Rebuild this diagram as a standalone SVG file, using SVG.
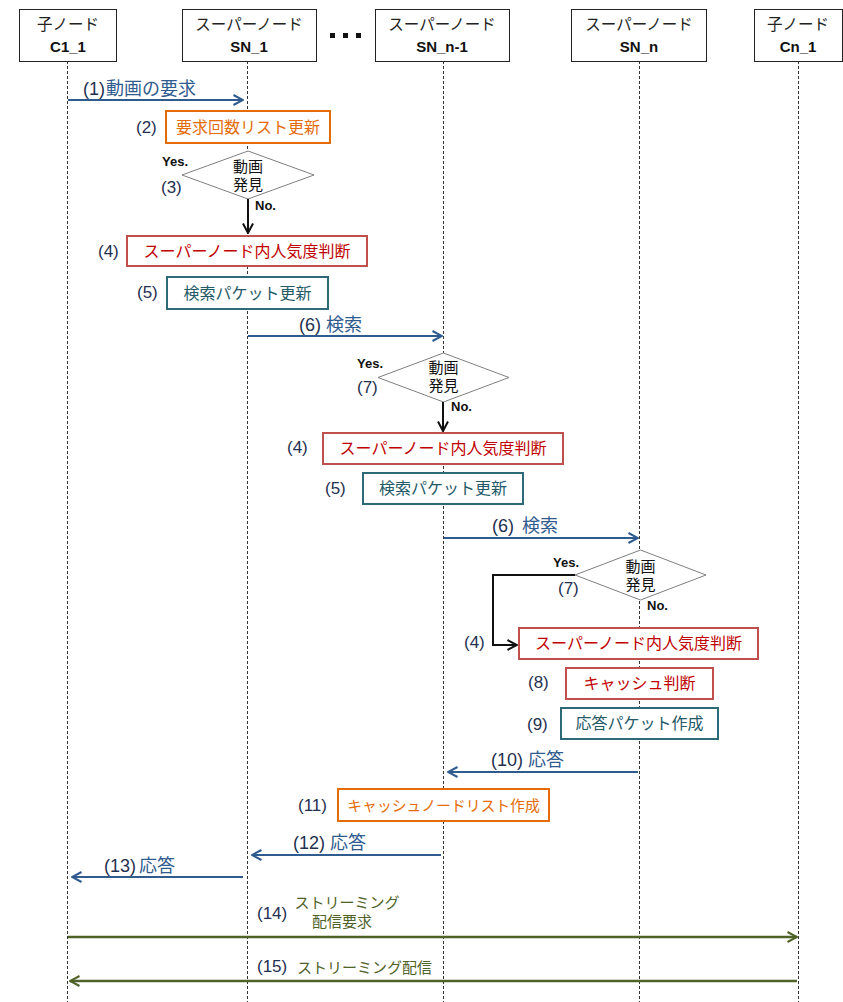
<svg xmlns="http://www.w3.org/2000/svg" width="843" height="1002" viewBox="0 0 843 1002">
<style>
text{font-family:"Liberation Sans","Noto Sans CJK JP",sans-serif;}
.hdr rect{fill:#fff;stroke:#222;stroke-width:1}
.hj{font-size:15.5px;fill:#222;text-anchor:middle}
.hl{font-size:15px;font-weight:bold;fill:#111;text-anchor:middle}
.life{stroke:#333;stroke-width:1;stroke-dasharray:3,2;fill:none}
.step{font-size:17px;fill:#1f3050}
.msg{font-size:18px;fill:#2f5b8f}
.num{fill:#1f3050}
.bt{font-size:16px;text-anchor:middle}
.or rect{fill:#fff;stroke:#e46c0a;stroke-width:2}
.or .bt{fill:#e46c0a}
.rd rect{fill:#fff;stroke:#c0504d;stroke-width:2}
.rd .bt{fill:#c00000}
.tl rect{fill:#fff;stroke:#2d6a78;stroke-width:2}
.tl .bt{fill:#245a68}
.dia polygon{fill:#fff;stroke:#7f7f7f;stroke-width:1}
.dt{font-size:15px;fill:#111;text-anchor:middle}
.yn{font-size:13px;font-weight:bold;fill:#111}
.blue{stroke:#2f5b8f;stroke-width:2;fill:none;marker-end:url(#mb)}
.blk{stroke:#111;stroke-width:2;fill:none;marker-end:url(#mk)}
.grn{stroke:#4f6228;stroke-width:2.5;fill:none;marker-end:url(#mg)}
.gt{font-size:15px;fill:#4f6228}
</style>
<defs>
<marker id="mb" viewBox="0 0 12 12" refX="11" refY="6" markerWidth="12" markerHeight="12" markerUnits="userSpaceOnUse" orient="auto"><path d="M1.5,1 L11,6 L1.5,11" fill="none" stroke="#2f5b8f" stroke-width="2"/></marker>
<marker id="mk" viewBox="0 0 12 12" refX="11" refY="6" markerWidth="12" markerHeight="12" markerUnits="userSpaceOnUse" orient="auto"><path d="M1.5,1 L11,6 L1.5,11" fill="none" stroke="#111" stroke-width="2"/></marker>
<marker id="mg" viewBox="0 0 12 12" refX="11" refY="6" markerWidth="12" markerHeight="12" markerUnits="userSpaceOnUse" orient="auto"><path d="M1.5,1 L11,6 L1.5,11" fill="none" stroke="#4f6228" stroke-width="2"/></marker>
</defs>
<rect width="843" height="1002" fill="#fff"/>

<g id="lifelines">
<line class="life" x1="67.5" y1="61" x2="67.5" y2="1002"/>
<line class="life" x1="247.5" y1="61" x2="247.5" y2="1002"/>
<line class="life" x1="443.5" y1="61" x2="443.5" y2="1002"/>
<line class="life" x1="639.5" y1="61" x2="639.5" y2="1002"/>
<line class="life" x1="798.5" y1="61" x2="798.5" y2="1002"/>
</g>

<g id="hdr-c1" class="hdr"><rect x="19.5" y="9.5" width="97" height="52"/><text class="hj" x="68" y="30">子ノード</text><text class="hl" x="68" y="52">C1_1</text></g>
<g id="hdr-sn1" class="hdr"><rect x="182.5" y="9.5" width="134" height="52"/><text class="hj" x="249" y="30">スーパーノード</text><text class="hl" x="249" y="52">SN_1</text></g>
<g id="dots"><rect x="330" y="33" width="5" height="5" fill="#111"/><rect x="343" y="33" width="5" height="5" fill="#111"/><rect x="356" y="33" width="5" height="5" fill="#111"/></g>
<g id="hdr-snn1" class="hdr"><rect x="375.5" y="9.5" width="134" height="52"/><text class="hj" x="442" y="30">スーパーノード</text><text class="hl" x="442" y="52">SN_n-1</text></g>
<g id="hdr-snn" class="hdr"><rect x="571.5" y="9.5" width="135" height="52"/><text class="hj" x="639" y="30">スーパーノード</text><text class="hl" x="639" y="52">SN_n</text></g>
<g id="hdr-cn" class="hdr"><rect x="754.5" y="9.5" width="88" height="52"/><text class="hj" x="798" y="30">子ノード</text><text class="hl" x="798" y="52">Cn_1</text></g>

<g id="step2" class="or"><text class="step" x="136" y="133">(2)</text><rect x="166" y="111" width="164" height="32"/><text class="bt" x="248" y="133">要求回数リスト更新</text></g>
<g id="dec3" class="dia"><polygon points="182,175 248,151 314,175 248,199"/><text class="dt" x="248" y="172">動画</text><text class="dt" x="248" y="190">発見</text><text class="yn" x="162" y="166">Yes.</text><text class="step" x="161" y="193">(3)</text><text class="yn" x="255" y="210">No.</text></g>
<g id="step4a" class="rd"><text class="step" x="98" y="257">(4)</text><rect x="127" y="236" width="240" height="30"/><text class="bt" x="247" y="257">スーパーノード内人気度判断</text></g>
<g id="step5a" class="tl"><text class="step" x="137" y="298">(5)</text><rect x="167" y="277" width="161" height="32"/><text class="bt" x="247.5" y="299">検索パケット更新</text></g>
<g id="dec7a" class="dia"><polygon points="378,377.5 443.5,353 509,377.5 443.5,402"/><text class="dt" x="443.5" y="373">動画</text><text class="dt" x="443.5" y="391">発見</text><text class="yn" x="357" y="368">Yes.</text><text class="step" x="357" y="393">(7)</text><text class="yn" x="451" y="411">No.</text></g>
<g id="step4b" class="rd"><text class="step" x="287" y="453">(4)</text><rect x="323" y="433" width="240" height="31"/><text class="bt" x="443" y="454">スーパーノード内人気度判断</text></g>
<g id="step5b" class="tl"><text class="step" x="325" y="494">(5)</text><rect x="363" y="473" width="160" height="31"/><text class="bt" x="443" y="494">検索パケット更新</text></g>
<g id="dec7b" class="dia"><polygon points="575,575 640.5,550 706,575 640.5,600"/><text class="dt" x="640.5" y="572">動画</text><text class="dt" x="640.5" y="590">発見</text><text class="yn" x="553" y="567">Yes.</text><text class="step" x="558" y="594">(7)</text><text class="yn" x="647" y="610">No.</text></g>
<g id="step4c" class="rd"><text class="step" x="464" y="648">(4)</text><rect x="519" y="628" width="239" height="31"/><text class="bt" x="638.5" y="649">スーパーノード内人気度判断</text></g>
<g id="step8" class="rd"><text class="step" x="528" y="688">(8)</text><rect x="566" y="668" width="147" height="31"/><text class="bt" x="639.5" y="689">キャッシュ判断</text></g>
<g id="step9" class="tl"><text class="step" x="527" y="730">(9)</text><rect x="561" y="708" width="157" height="31"/><text class="bt" x="639.5" y="729">応答パケット作成</text></g>
<g id="step11" class="or"><text class="step" x="298" y="811">(11)</text><rect x="338" y="789" width="211" height="32"/><text class="bt" x="443.5" y="810.5" style="font-size:14.8px">キャッシュノードリスト作成</text></g>

<g id="connectors">
<line class="blue" x1="68" y1="100" x2="243" y2="100"/>
<text class="msg" x="83" y="95"><tspan class="num">(1)</tspan><tspan x="106">動画の要求</tspan></text>
<line class="blk" x1="248" y1="199" x2="248" y2="233"/>
<line class="blue" x1="248" y1="336" x2="442" y2="336"/>
<text class="msg" x="299" y="331"><tspan class="num">(6)</tspan><tspan x="326">検索</tspan></text>
<line class="blk" x1="443" y1="402" x2="443" y2="431"/>
<line class="blue" x1="444" y1="538" x2="638" y2="538"/>
<text class="msg" x="492" y="532"><tspan class="num">(6)</tspan><tspan x="522">検索</tspan></text>
<polyline class="blk" points="575,575 493,575 493,645 517,645"/>
<line class="blue" x1="638" y1="772" x2="448" y2="772"/>
<text class="msg" x="491" y="766"><tspan class="num">(10)</tspan><tspan x="528">応答</tspan></text>
<line class="blue" x1="441" y1="855" x2="252" y2="855"/>
<text class="msg" x="293" y="849"><tspan class="num">(12)</tspan><tspan x="330">応答</tspan></text>
<line class="blue" x1="243" y1="877" x2="72" y2="877"/>
<text class="msg" x="104" y="872"><tspan class="num">(13)</tspan><tspan x="139">応答</tspan></text>
<line class="grn" x1="68" y1="937" x2="797" y2="937"/>
<text class="step" x="257" y="919">(14)</text>
<text class="gt" x="347" y="908" text-anchor="middle">ストリーミング</text>
<text class="gt" x="342" y="927" text-anchor="middle">配信要求</text>
<line class="grn" x1="797" y1="981" x2="70" y2="981"/>
<text class="step" x="257" y="972">(15)</text>
<text class="gt" x="297" y="973">ストリーミング配信</text>
</g>
</svg>
